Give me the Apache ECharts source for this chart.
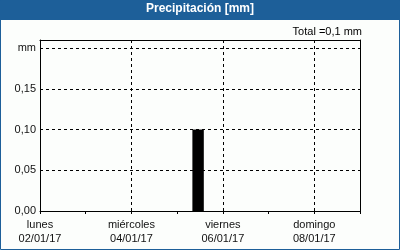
<!DOCTYPE html>
<html><head><meta charset="utf-8">
<script src="https://cdn.jsdelivr.net/npm/echarts@6/dist/echarts.min.js"></script>
<style>html,body{margin:0;padding:0;background:#fcfefc}#c{width:400px;height:250px}</style>
</head><body><div id="c"></div>
<script>
// Data
const dayNames = ['lunes','martes','miércoles','jueves','viernes','sábado','domingo'];
const dayDates = ['02/01/17','03/01/17','04/01/17','05/01/17','06/01/17','07/01/17','08/01/17'];
// precipitation intervals (hours since 02/01/17 00:00)
const barStartHours = [80];
const barEndHours = [86];
const barValues = [0.1];
const yTickLabels = {0:'0,00',0.05:'0,05',0.1:'0,10',0.15:'0,15',0.2:'mm'};
const totalText = 'Total =0,1 mm';
const titleText = 'Precipitación [mm]';

const data = barValues.map((v,i)=>[barStartHours[i], barEndHours[i], v]);
const FONT = 'Liberation Sans';
const chart = echarts.init(document.getElementById('c'), null, {renderer:'canvas'});
const frameAxis = {axisLine:{show:true,onZero:false,lineStyle:{color:'#000',width:1}},axisTick:{show:false},axisLabel:{show:false},splitLine:{show:false}};
chart.setOption({
  animation:false,
  backgroundColor:'#fcfefc',
  graphic:[
    {type:'rect', z:-1, shape:{x:0,y:0,width:400,height:20}, style:{fill:'#1d5f99'}},
    {type:'rect', z:-1, shape:{x:0.5,y:0.5,width:399,height:249}, style:{fill:'none',stroke:'#1d5f99',lineWidth:1}}
  ],
  title:[
    {text:titleText, left:'center', top:3, padding:0, textStyle:{color:'#fff',fontFamily:FONT,fontWeight:'bold',fontSize:12}},
    {text:totalText, right:38, top:26, padding:0, textStyle:{color:'#000',fontFamily:FONT,fontWeight:'normal',fontSize:11}}
  ],
  grid:{left:40,right:40,top:40,bottom:39,show:false},
  xAxis:[{
    type:'value', min:0, max:168, interval:48,
    axisLine:{show:true,onZero:false,lineStyle:{color:'#000',width:1}},
    axisTick:{show:true,length:3,lineStyle:{color:'#000'}},
    minorTick:{show:true,splitNumber:2,length:3,lineStyle:{color:'#000'}},
    splitLine:{show:true,lineStyle:{color:'#000',type:[3,3],width:1}},
    axisLabel:{
      margin:7, color:'#111', fontFamily:FONT, fontSize:11, lineHeight:14, showMaxLabel:false,
      formatter:function(v){const d=Math.round(v/24); if(d>=dayNames.length) return ''; return dayNames[d]+'\n'+dayDates[d];}
    }
  }, Object.assign({type:'value',position:'top',min:0,max:168,interval:48}, frameAxis)],
  yAxis:[{
    type:'value', min:0, max:0.21, interval:0.05,
    axisLine:{show:true,onZero:false,lineStyle:{color:'#000'}},
    axisTick:{show:false},
    splitLine:{show:true,lineStyle:{color:'#000',type:[3,3],width:1}},
    axisLabel:{
      margin:4, color:'#111', fontFamily:FONT, fontSize:11, showMaxLabel:false,
      formatter:function(v){const k=Math.round(v*100)/100; return yTickLabels[k]!==undefined?yTickLabels[k]:'';}
    }
  }, Object.assign({type:'value',position:'right',min:0,max:0.21,interval:0.05}, frameAxis)],
  series:[{
    type:'custom',
    data:data,
    encode:{x:[0,1],y:2},
    renderItem:function(params,api){
      const p0=api.coord([api.value(0),api.value(2)]);
      const p1=api.coord([api.value(1),0]);
      return {type:'rect',shape:{x:p0[0],y:p0[1],width:p1[0]-p0[0],height:p1[1]-p0[1]},style:{fill:'#000'}};
    }
  }]
});
</script></body></html>
